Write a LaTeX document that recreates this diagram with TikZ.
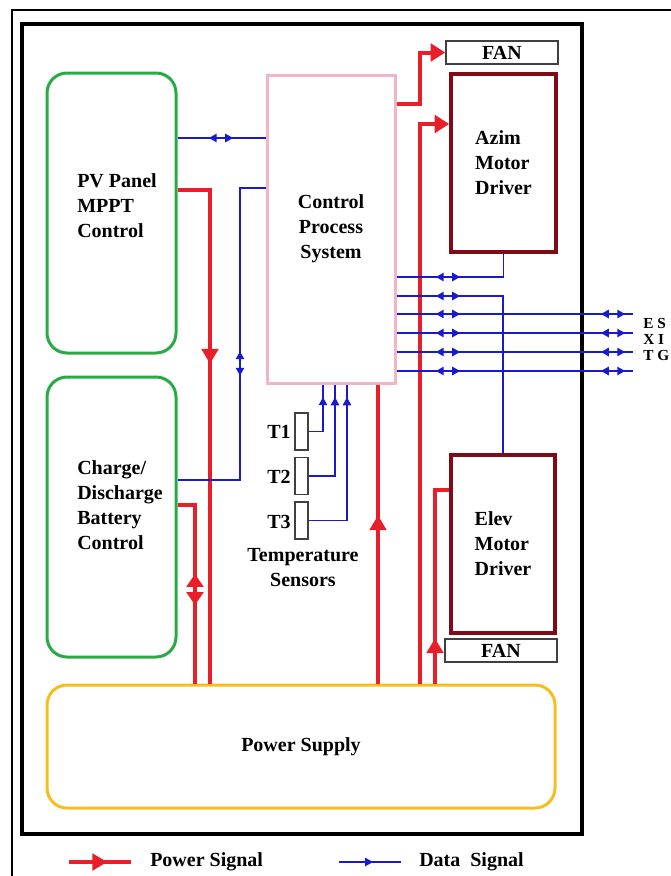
\documentclass[tikz,border=0pt]{standalone}
\usepackage{fontspec}
\setmainfont{Liberation Serif}
\usetikzlibrary{decorations.markings,arrows.meta}
\definecolor{pwred}{RGB}{232,30,40}
\definecolor{dblue}{RGB}{25,25,210}
\definecolor{grn}{RGB}{40,170,70}
\definecolor{pnk}{RGB}{242,181,200}
\definecolor{drd}{RGB}{128,10,22}
\definecolor{ylw}{RGB}{245,190,30}
\tikzset{
  bidib/.style={postaction={decorate,decoration={markings,mark=at position #1 with {
     \fill[dblue] (9pt,0pt) -- (3.2pt,3.3pt) -- (3.2pt,-3.3pt) -- cycle;
     \fill[dblue] (-9pt,0pt) -- (-3.2pt,3.3pt) -- (-3.2pt,-3.3pt) -- cycle;}}}},
  tipb/.style={postaction={decorate,decoration={markings,mark=at position #1 with {
     \fill[dblue] (0pt,0pt) -- (-6pt,3.3pt) -- (-6pt,-3.3pt) -- cycle;}}}},
  tipr/.style={postaction={decorate,decoration={markings,mark=at position #1 with {
     \fill[pwred] (0pt,0pt) -- (-11pt,6.6pt) -- (-11pt,-6.6pt) -- cycle;}}}},
  bidir/.style={postaction={decorate,decoration={markings,mark=at position #1 with {
     \fill[pwred] (11.6pt,0pt) -- (1.9pt,6.6pt) -- (1.9pt,-6.6pt) -- cycle;
     \fill[pwred] (-11.6pt,0pt) -- (-1.9pt,6.6pt) -- (-1.9pt,-6.6pt) -- cycle;}}}},
  pw/.style={draw=pwred, line width=3pt},
  pwend/.style={pw, -{Triangle[length=11pt,width=13.2pt]}},
  dt/.style={draw=dblue, line width=1.1pt},
  gbox/.style={draw=grn, line width=2.25pt, rounded corners=15pt, minimum width=96.75pt, minimum height=210pt},
  dbox/.style={draw=drd, line width=2.6pt, minimum width=78.75pt, minimum height=133.5pt, align=left},
  fanbox/.style={draw=black!75, line width=1.1pt, minimum width=84pt, minimum height=17.25pt},
  tbox/.style={draw=black!75, line width=1.1pt, minimum width=9.75pt, minimum height=27.75pt},
}
\begin{document}
\begin{tikzpicture}[x=0.75pt,y=-0.75pt,
  every node/.style={font=\bfseries\fontsize{15}{18.75}\selectfont, inner sep=0pt}]
\useasboundingbox (0,0) rectangle (671,876);
% frames
\draw[line width=1.1pt] (671,10) -- (12,10) -- (12,876);
\draw[line width=3pt] (22,24) rectangle (582,834);
% blocks
\node[gbox] (pv) at (111.5,213) {};
\node[anchor=west, align=left] (pvt) at (77,206) {PV Panel\\MPPT\\Control};
\node[gbox] (ch) at (111.5,517) {};
\node[anchor=west, align=left] (cht) at (77,505) {Charge/\\Discharge\\Battery\\Control};
\node[draw=pnk, line width=2.25pt, minimum width=96pt, minimum height=231pt, align=center] (cps) at (331,229) {Control\\Process\\System};
\node[dbox] (azim) at (503.5,163) {Azim\\Motor\\Driver};
\node[dbox, minimum width=78pt] (elev) at (503,544) {Elev\\Motor\\Driver};
\node[fanbox] (fan1) at (502,52.5) {FAN};
\node[fanbox] (fan2) at (501,650.5) {FAN};
\node[draw=ylw, line width=2.25pt, rounded corners=15pt, minimum width=381pt, minimum height=92.25pt] (ps) at (301,746.5) {Power Supply};
% temperature sensors
\node[tbox] (t1) at (301.5,431.5) {};
\node[tbox] (t2) at (301.5,476) {};
\node[tbox] (t3) at (301.5,520.5) {};
\node[anchor=east] (l1) at (291,432) {T1};
\node[anchor=east] (l2) at (291,477) {T2};
\node[anchor=east] (l3) at (291,521.5) {T3};
\node[align=center] (ts) at (303,568) {Temperature\\Sensors};
% power connectors
\draw[pw, tipr=154.5pt] (pv.east |- 0,190) -| (210,0 |- ps.north);
\draw[pw, bidir=76.5pt] (ch.east |- 0,505) -| (195,0 |- ps.north);
\draw[pw, tipr=126pt] (378,0 |- ps.north) -- (378,0 |- cps.south);
\draw[pwend] (420,0 |- ps.north) |- (azim.west |- 0,124);
\draw[pwend] (cps.east |- 0,104) -| (420,0 |- fan1.west) -- (fan1.west);
\draw[pw, tipr=33.75pt] (435,0 |- ps.north) |- (elev.west |- 0,490);
% data connectors
\draw[dt, bidib=32.6pt] (pv.east |- 0,138) -- (cps.west |- 0,138);
\draw[dt, bidib=150.75pt] (cps.west |- 0,188) -| (240,480) -- (ch.east |- 0,480);
\draw[dt, bidib=38.6pt] (cps.east |- 0,277) -| (azim.south);
\draw[dt, bidib=38.6pt] (cps.east |- 0,296) -| (elev.north);
\coordinate (e1) at (633,314);
\coordinate (e2) at (633,333);
\coordinate (e3) at (633,352);
\coordinate (e4) at (633,371);
\foreach \k in {1,2,3,4}{
  \draw[dt, bidib=38.6pt, bidib=162.4pt] (cps.east |- e\k) -- (e\k);
}
\node[anchor=west, align=left, font=\bfseries\fontsize{11.5}{12}\selectfont] (ext) at (643,339) {E S\\X I\\T G};
\draw[dt, tipb=36.4pt] (t1.east) -| (323,0 |- cps.south);
\draw[dt, tipb=78.75pt] (t2.east) -| (335,0 |- cps.south);
\draw[dt, tipb=121.1pt] (t3.east) -| (347,0 |- cps.south);
% legend
\coordinate (lr1) at (69,862);
\coordinate (lr2) at (131,862);
\coordinate (lb1) at (339,862);
\coordinate (lb2) at (401,862);
\draw[pw, tipr=28.5pt] (lr1) -- (lr2);
\draw[dt, tipb=25.5pt] (lb1) -- (lb2);
\node[anchor=west] (lgp) at (150,862) {Power Signal};
\node[anchor=west] (lgd) at (419,862) {Data\ \ Signal};
\end{tikzpicture}
\end{document}
